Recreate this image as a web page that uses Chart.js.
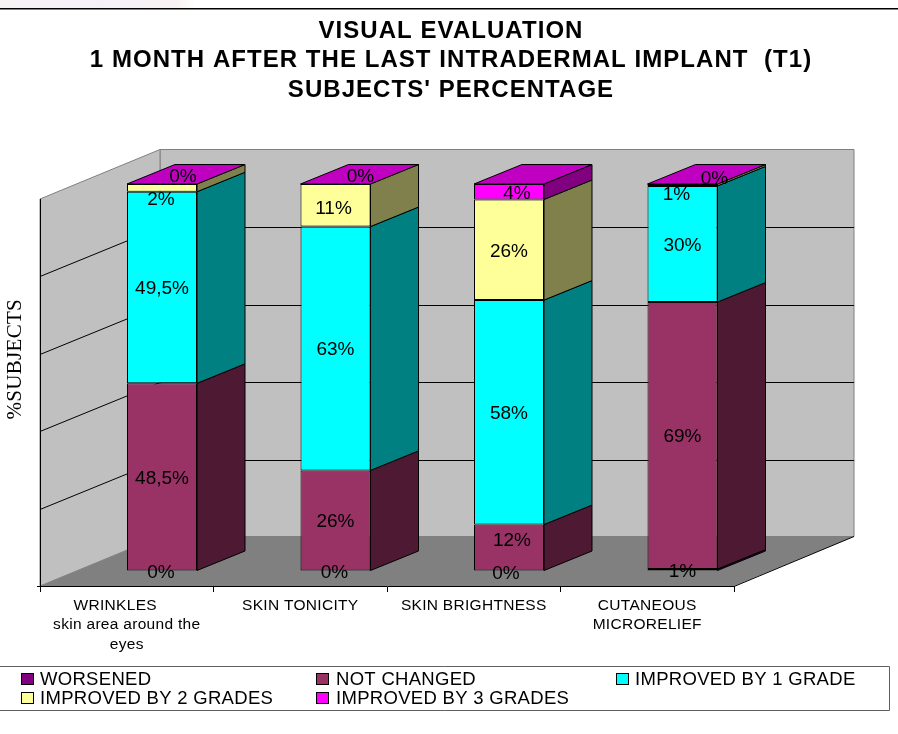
<!DOCTYPE html>
<html><head><meta charset="utf-8">
<style>html,body{margin:0;padding:0;background:#fff}canvas{display:block}</style>
<script src="https://cdn.jsdelivr.net/npm/chart.js@4/dist/chart.umd.min.js"></script>
</head><body>
<canvas id="c" width="898" height="734"></canvas>
<script>
const categories = [["WRINKLES     ","skin area around the","eyes"],"SKIN TONICITY","SKIN BRIGHTNESS",["CUTANEOUS","MICRORELIEF"]];
const worsened = [0,0,0,0.5];
const notChanged = [48.5,26,12,69];
const improved1 = [49.5,63,58,30];
const improved2 = [2,11,26,0.5];
const improved3 = [0,0,4,0];
const worsenedText = ["0%","0%","0%","1%"];
const notChangedText = ["48,5%","26%","12%","69%"];
const improved1Text = ["49,5%","63%","58%","30%"];
const improved2Text = ["2%","11%","26%","1%"];
const improved3Text = ["0%","0%","4%","0%"];
const titleLines = ["VISUAL EVALUATION","1 MONTH AFTER THE LAST INTRADERMAL IMPLANT  (T1)","SUBJECTS' PERCENTAGE"];

const seriesStyle = [
 {label:"WORSENED",data:worsened,text:worsenedText,front:"#800080",side:"#400040",top:"#600060"},
 {label:"NOT CHANGED",data:notChanged,text:notChangedText,front:"#993366",side:"#4d1933",top:"#732650"},
 {label:"IMPROVED BY 1 GRADE",data:improved1,text:improved1Text,front:"#00ffff",side:"#008080",top:"#00c0c0"},
 {label:"IMPROVED BY 2 GRADES",data:improved2,text:improved2Text,front:"#ffff99",side:"#80804d",top:"#c0c073"},
 {label:"IMPROVED BY 3 GRADES",data:improved3,text:improved3Text,front:"#ff00ff",side:"#800080",top:"#c000c0"}
];
// plot geometry of the pseudo-3D box
const DEPTH = {x:120,y:-49.5};          // floor depth
const FRONT = {x:35.25,y:-15};          // bar front plane, from the floor's front edge
const BAR = {x:48,y:-19.5};             // bar depth
const labelNudge = {"4:0":[21,-9],"3:0":[-1,10],"0:0":[-1,0],"4:1":[25,-9],"3:1":[-2,2],"0:1":[-1,0],
 "4:2":[8,1],"1:2":[3,-8],"0:2":[-3,1],"4:3":[32,-7],"3:3":[-6,8],"0:3":[0,0]};

const box3d = {
 id:"box3d",
 afterLayout(chart){
  const tb=chart.titleBlock;
  if(tb){
    tb.left=0;tb.right=902;
    if(!tb._spaced){
      tb._spaced=true;
      const d=tb.draw;
      tb.draw=function(a){const c=this.ctx;c.save();c.letterSpacing="1.05px";d.call(this,a);c.restore();};
    }
  }
 },
 beforeDraw(chart){
  const {ctx,chartArea:a,scales:{y}}=chart;
  ctx.save();
  // top strip of the page
  const g=ctx.createLinearGradient(0,0,195,0);
  g.addColorStop(0,"#f7f3f5");g.addColorStop(.5,"#f4f1fa");g.addColorStop(.9,"#f8f2f2");g.addColorStop(1,"#ffffff");
  ctx.fillStyle=g;ctx.fillRect(0,0,195,8);
  ctx.fillStyle="#000";ctx.fillRect(0,8,898,1);
  ctx.fillStyle="#808080";ctx.fillRect(0,9,898,1);
  const L=a.left,R=a.right,T=a.top,B=a.bottom,dx=DEPTH.x,dy=DEPTH.y;
  const poly=(p,f,s)=>{ctx.beginPath();p.forEach((q,i)=>i?ctx.lineTo(q[0],q[1]):ctx.moveTo(q[0],q[1]));ctx.closePath();
    if(f){ctx.fillStyle=f;ctx.fill();} if(s){ctx.strokeStyle=s;ctx.lineWidth=1;ctx.stroke();}};
  poly([[L+dx,T+dy],[R+dx,T+dy],[R+dx,B+dy],[L+dx,B+dy]],"#c0c0c0","#808080");
  poly([[L,T],[L+dx,T+dy],[L+dx,B+dy],[L,B]],"#c0c0c0","#808080");
  poly([[L,B],[L+dx,B+dy],[R+dx,B+dy],[R,B]],"#808080",null);
  ctx.strokeStyle="#000";ctx.lineWidth=1;
  y.ticks.forEach(t=>{
    if(t.value===0||t.value===100)return;
    const py=Math.round(y.getPixelForValue(t.value))+.5;
    const by=Math.floor(py+dy)+.5;
    ctx.beginPath();ctx.moveTo(L,py);ctx.lineTo(L+dx,by);ctx.lineTo(R+dx,by);ctx.stroke();
  });
  ctx.beginPath();ctx.moveTo(R,B+.5);ctx.lineTo(R+dx,B+dy);ctx.stroke();
  ctx.beginPath();ctx.moveTo(L-3,B+.5);ctx.lineTo(L,B+.5);ctx.stroke();
  ctx.restore();
  ctx.letterSpacing="0.3px";
 },
 beforeDatasetsDraw(chart){
  const {ctx}=chart;
  ctx.save();ctx.strokeStyle="#000";ctx.lineWidth=1;
  const n=chart.data.labels.length;
  for(let c=0;c<n;c++){
    chart.data.datasets.forEach((ds,i)=>{
      if(ds.data[c]<=0)return;
      const el=chart.getDatasetMeta(i).data[c];
      const x=el.x+el.width/2+FRONT.x, yt=el.y+FRONT.y, yb=el.base+FRONT.y;
      ctx.beginPath();ctx.moveTo(x,yt);ctx.lineTo(x+BAR.x,yt+BAR.y);ctx.lineTo(x+BAR.x,yb+BAR.y);ctx.lineTo(x,yb);ctx.closePath();
      ctx.fillStyle=seriesStyle[i].side;ctx.fill();ctx.stroke();
    });
    // the top lid takes the colour of the series at 100 %
    const last=chart.data.datasets.length-1;
    const el=chart.getDatasetMeta(last).data[c];
    const xl=el.x-el.width/2+FRONT.x, xr=el.x+el.width/2+FRONT.x, yt=el.y+FRONT.y;
    ctx.beginPath();ctx.moveTo(xl,yt);ctx.lineTo(xl+BAR.x,yt+BAR.y);ctx.lineTo(xr+BAR.x,yt+BAR.y);ctx.lineTo(xr,yt);ctx.closePath();
    ctx.fillStyle=seriesStyle[last].top;ctx.fill();ctx.stroke();
  }
  ctx.restore();
 },
 beforeDatasetDraw(chart){chart.ctx.save();chart.ctx.translate(FRONT.x,FRONT.y);},
 afterDatasetDraw(chart){chart.ctx.restore();},
 afterDatasetsDraw(chart){
  const {ctx}=chart;
  ctx.save();ctx.letterSpacing="0px";ctx.fillStyle="#000";ctx.font="19px 'Liberation Sans'";ctx.textAlign="center";ctx.textBaseline="middle";
  seriesStyle.forEach((s,i)=>{
    chart.getDatasetMeta(i).data.forEach((el,c)=>{
      const n=labelNudge[i+":"+c]||[0,0];
      ctx.fillText(s.text[c],el.x+FRONT.x+n[0],(el.y+el.base)/2+FRONT.y+n[1]+1.5);
    });
  });
  ctx.restore();
 },
 afterDraw(chart){
  const {ctx}=chart;
  ctx.save();
  ctx.strokeStyle="#606060";ctx.lineWidth=1;
  ctx.beginPath();ctx.moveTo(0,666.5);ctx.lineTo(889.5,666.5);ctx.lineTo(889.5,710.5);ctx.lineTo(0,710.5);ctx.stroke();
  ctx.letterSpacing="0.3px";
  ctx.font="18.5px 'Liberation Sans'";ctx.textBaseline="middle";ctx.textAlign="left";
  const cols=[[21.5,40],[316.5,336],[616.5,635],[21.5,40],[316.5,336]];
  const rows=[679,679,679,698,698];
  seriesStyle.forEach((s,i)=>{
    const [sx,tx]=cols[i],ry=rows[i];
    ctx.fillStyle=s.front;ctx.fillRect(sx,ry-5.5,12,11);
    ctx.strokeStyle="#000";ctx.strokeRect(sx,ry-5.5,12,11);
    ctx.fillStyle="#000";ctx.fillText(s.label,tx,ry+1);
  });
  ctx.restore();
 }
};

new Chart(document.getElementById("c"),{
 type:"bar",
 data:{labels:categories,datasets:seriesStyle.map(s=>({label:s.label,data:s.data,backgroundColor:s.front,borderColor:"#000",borderWidth:1,borderSkipped:false,clip:false}))},
 plugins:[box3d],
 options:{
  responsive:false,animation:false,
  layout:{padding:{left:0,right:164,top:0,bottom:0}},
  datasets:{bar:{barPercentage:70/173.5,categoryPercentage:1}},
  plugins:{
   legend:{display:false},tooltip:{enabled:false},
   title:{display:true,text:titleLines,color:"#000",font:{family:"'Liberation Sans'",size:24,weight:"bold",lineHeight:29.5/24},padding:{top:16.5,bottom:94}}
  },
  scales:{
   x:{stacked:true,
      afterFit(s){s.height=148;},
      grid:{drawOnChartArea:false,color:"#000",tickLength:6,tickColor:"#000"},
      border:{display:true,color:"#000"},
      ticks:{autoSkip:false,maxRotation:0,minRotation:0,color:"#000",padding:4,font:{family:"'Liberation Sans'",size:15.5,lineHeight:1.25}}},
   y:{stacked:true,min:0,max:100,
      afterFit(s){s.width=40;},
      grid:{drawOnChartArea:false,drawTicks:false},
      border:{display:true,color:"#000"},
      ticks:{display:false,stepSize:20},
      title:{display:true,text:"            %SUBJECTS",color:"#000",padding:{top:3,bottom:0},font:{family:"'Liberation Serif'",size:21}}}
  }
 }
});
</script>
</body></html>
